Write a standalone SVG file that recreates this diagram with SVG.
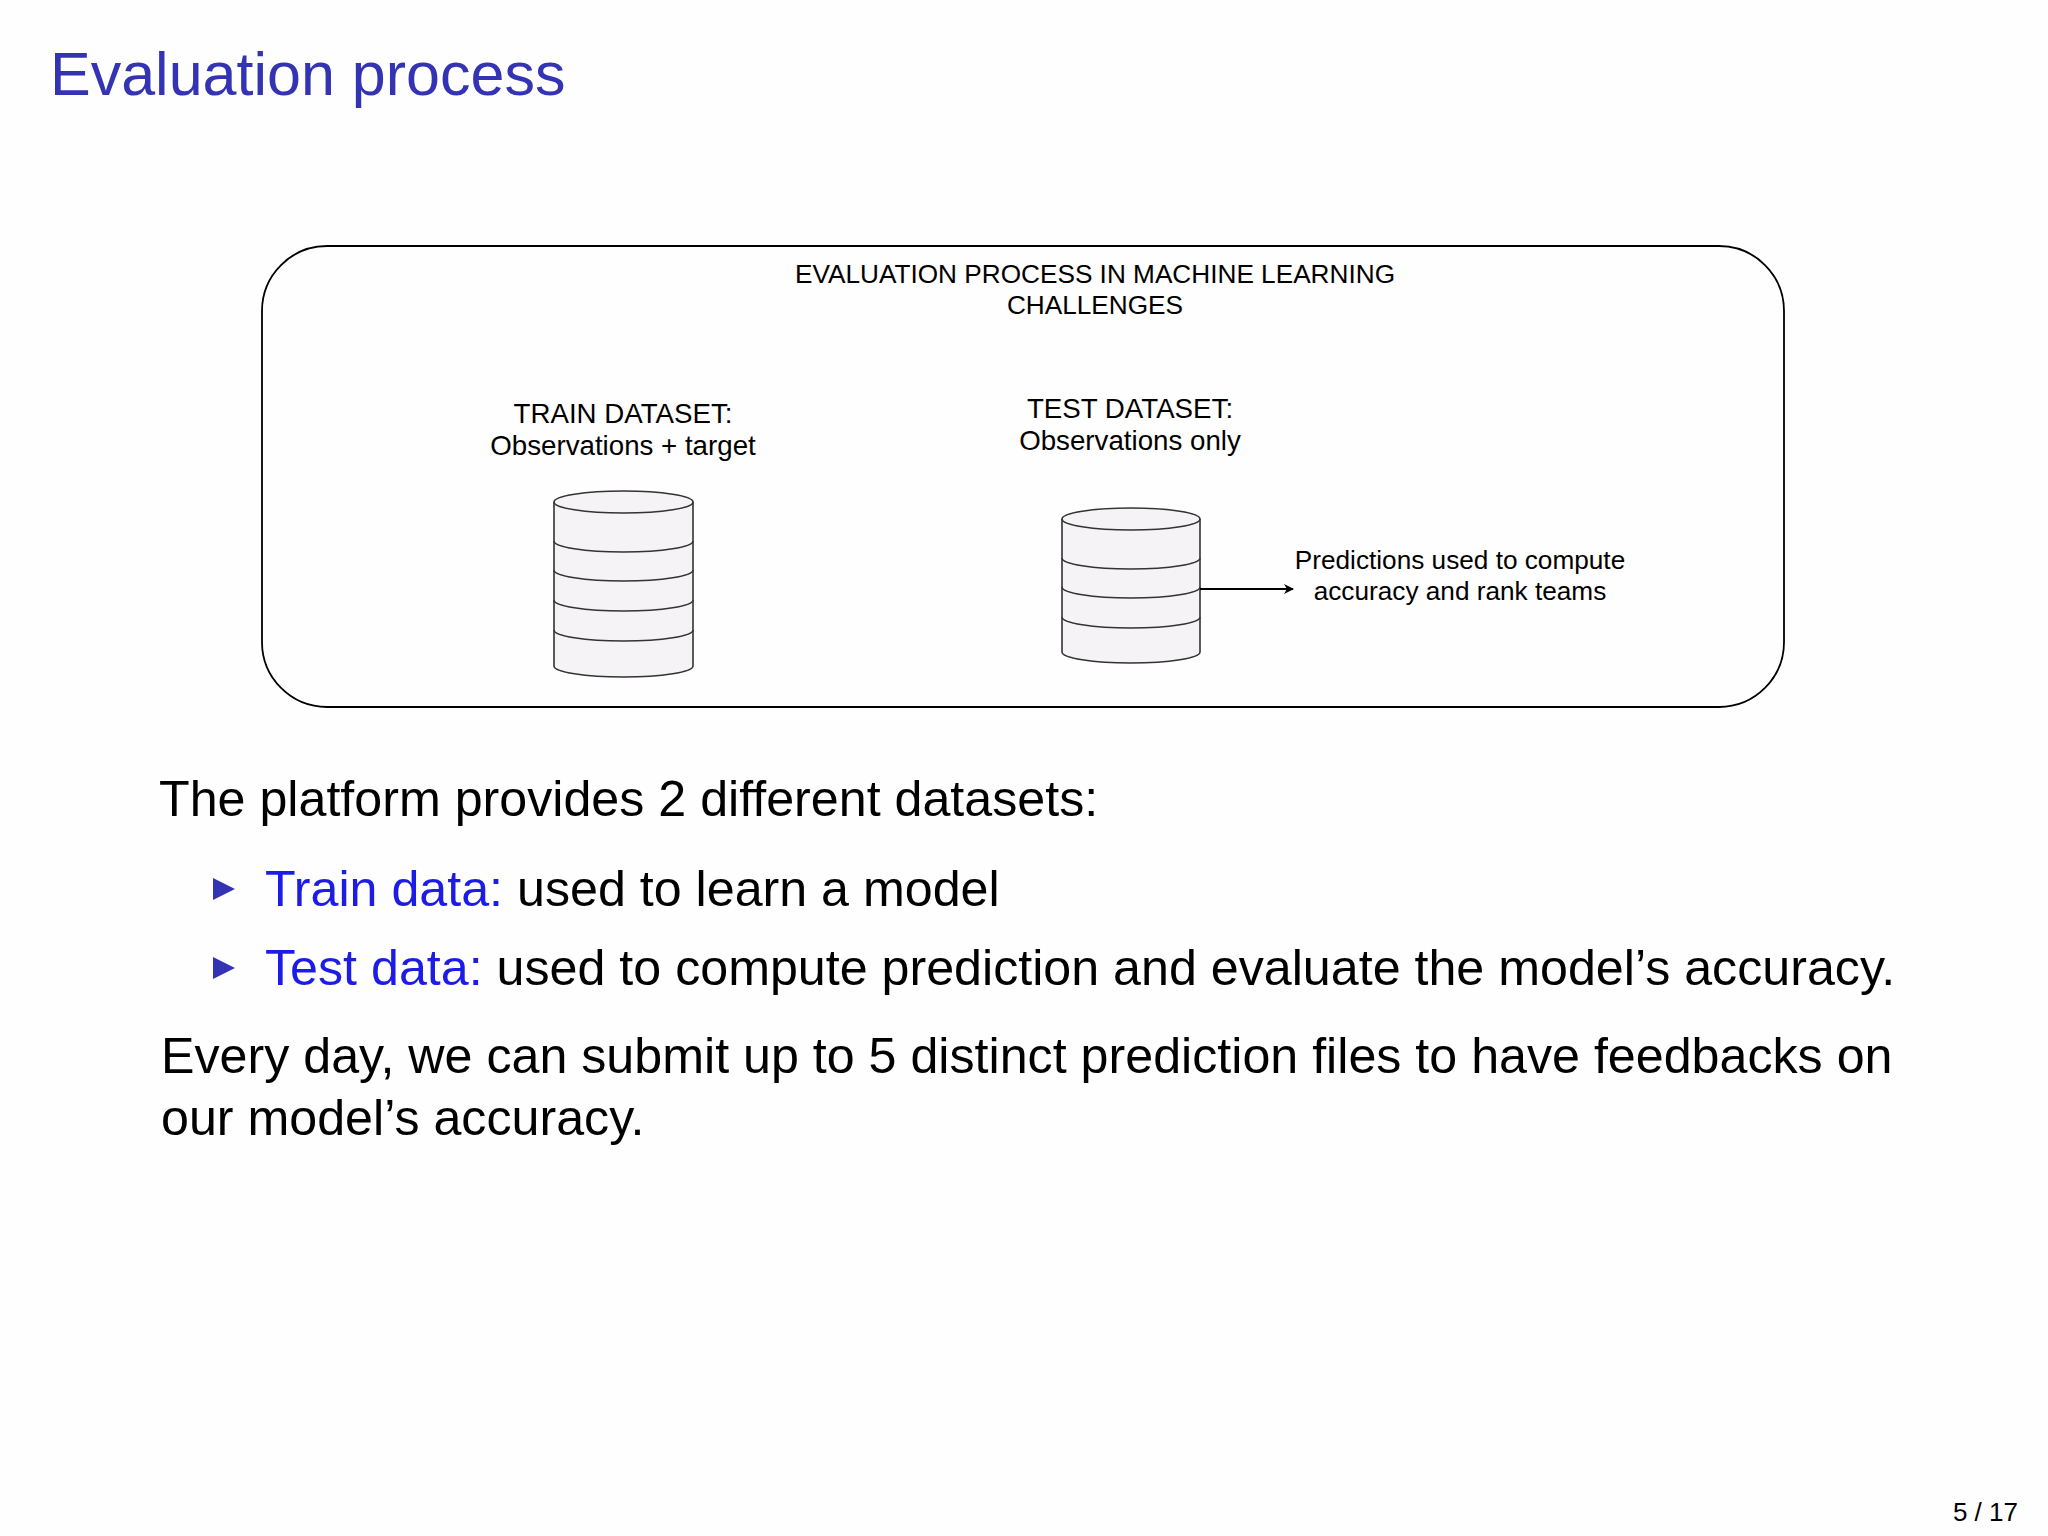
<svg xmlns="http://www.w3.org/2000/svg" width="2048" height="1536" viewBox="0 0 2048 1536">
<style>
text{font-family:"Liberation Sans",Arial,sans-serif;fill:#000}
.cyl{fill:#f5f3f6;stroke:#333;stroke-width:1.6}
.band{fill:none;stroke:#333;stroke-width:1.6}
.sm{font-size:26.2px;text-anchor:middle}
.md{font-size:27.7px;text-anchor:middle}
.body{font-size:50.2px}
.blue{fill:#1c1ce6}
</style>
<defs><marker id="ah" markerWidth="10" markerHeight="10" refX="9" refY="5" orient="auto" markerUnits="userSpaceOnUse"><path d="M0,0 L10,5 L0,10 L3,5 Z" fill="#000"/></marker></defs>
<rect width="2048" height="1536" fill="#fefefe"/>
<text x="50" y="95" style="font-size:61px;fill:#3333b3">Evaluation process</text>
<g id="frame">
<rect x="262" y="246" width="1522" height="461" rx="65" ry="65" fill="none" stroke="#000" stroke-width="1.8"/>
<text class="sm" x="1095" y="283">EVALUATION PROCESS IN MACHINE LEARNING</text>
<text class="sm" x="1095" y="314">CHALLENGES</text>
</g>
<g id="train">
<text class="md" x="623" y="423">TRAIN DATASET:</text>
<text class="md" x="623" y="455">Observations + target</text>
<path class="cyl" d="M554,502 A69.5,11 0 0 1 693,502 V666 A69.5,11 0 0 1 554,666 Z"/>
<path class="band" d="M554,502 A69.5,11 0 0 0 693,502 M554,541 A69.5,11 0 0 0 693,541 M554,570 A69.5,11 0 0 0 693,570 M554,600 A69.5,11 0 0 0 693,600 M554,630 A69.5,11 0 0 0 693,630"/>
</g>
<g id="test">
<text class="md" x="1130" y="418">TEST DATASET:</text>
<text class="md" x="1130" y="450">Observations only</text>
<path class="cyl" d="M1062,519 A69,11 0 0 1 1200,519 V652 A69,11 0 0 1 1062,652 Z"/>
<path class="band" d="M1062,519 A69,11 0 0 0 1200,519 M1062,558 A69,11 0 0 0 1200,558 M1062,587 A69,11 0 0 0 1200,587 M1062,617 A69,11 0 0 0 1200,617"/>
</g>
<g id="pred">
<text class="sm" x="1460" y="569">Predictions used to compute</text>
<text class="sm" x="1460" y="600">accuracy and rank teams</text>
</g>
<g id="connectors">
<line x1="1200" y1="589" x2="1293" y2="589" stroke="#000" stroke-width="1.8" marker-end="url(#ah)"/>
</g>
<text class="body" x="159" y="816">The platform provides 2 different datasets:</text>
<path d="M213,878 L235,889 L213,900 Z" fill="#3333b3"/>
<text class="body" x="265" y="906"><tspan class="blue">Train data:</tspan> used to learn a model</text>
<path d="M213,957 L235,968 L213,979 Z" fill="#3333b3"/>
<text class="body" x="265" y="985"><tspan class="blue">Test data:</tspan> used to compute prediction and evaluate the model’s accuracy.</text>
<text class="body" x="161" y="1073">Every day, we can submit up to 5 distinct prediction files to have feedbacks on</text>
<text class="body" x="161" y="1135">our model’s accuracy.</text>
<text x="2018" y="1521" style="font-size:26px;text-anchor:end">5 / 17</text>
</svg>
